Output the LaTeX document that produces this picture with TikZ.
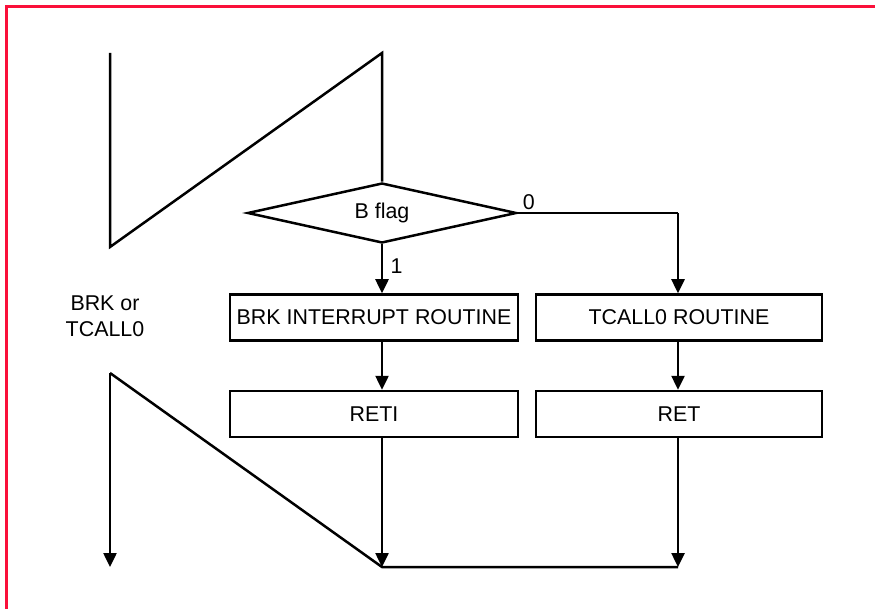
\documentclass[tikz,border=0pt]{standalone}
\usepackage{fontspec}
\setmainfont{Liberation Sans}
\usetikzlibrary{shapes.geometric,arrows.meta}
\definecolor{frame}{RGB}{250,16,58}
\begin{document}
\begin{tikzpicture}[x=1pt,y=-1pt,
  every node/.style={font=\fontsize{21.4pt}{25.5pt}\selectfont},
  ln/.style={line width=2.5pt,line join=miter},
  arr/.style={ln,-{Triangle[length=14pt,width=13pt]}},
  procbox/.style={draw,line width=2.5pt,rectangle,inner sep=0pt,minimum height=46pt},
  decision/.style={draw,line width=2.5pt,diamond,aspect=4.5,inner sep=0pt,minimum width=269pt,minimum height=60pt}
]
\useasboundingbox (0,0) rectangle (875,609);
% frame (top and left only)
\draw[frame,line width=2.8pt] (875,6.7) -- (6.7,6.7) -- (6.7,609);

% decision
\node[decision] (flag) at (382,213) {B flag};
% boxes
\node[procbox,minimum width=288pt] (brk) at (374,317.5) {BRK INTERRUPT ROUTINE};
\node[procbox,minimum width=286pt] (tc) at (679,317.5) {TCALL0 ROUTINE};
\node[procbox,minimum width=288pt] (reti) at (374,414) {RETI};
\node[procbox,minimum width=286pt] (ret) at (679,414) {RET};
% side label
\node[align=center] (lbl) at (105,316) {BRK or\\TCALL0};

% coordinates
\coordinate (tl) at (110,53);
\coordinate (tr) at (382,53);
\coordinate (bl) at (110,247);
\coordinate (l2) at (110,373);
\coordinate (lend) at (110,567);
\coordinate (join) at (382,567);
\coordinate (rend) at (678,567);
\coordinate (rt) at (678,213);

% upper zigzag
\draw[ln] (tl) -- (bl) -- (tr) -- (flag.north);
% branches
\draw[arr] (flag.south) -- (flag.south |- brk.north) node[pos=0.45,right=4pt] {1};
\draw[ln] (flag.east) -- (rt);
\draw[arr] (rt) -- (rt |- tc.north);
\node[anchor=south west,inner sep=0pt] at ([xshift=5pt,yshift=3.5pt]flag.east) {0};
\draw[arr] (brk.south -| flag.south) -- (reti.north -| flag.south);
\draw[arr] (tc.south -| rt) -- (ret.north -| rt);
% lower zigzag
\draw[arr] (l2) -- (lend);
\draw[ln] (l2) -- (join) -- (rend);
\draw[arr] (reti.south -| join) -- (join);
\draw[arr] (ret.south -| rend) -- (rend);
\end{tikzpicture}
\end{document}
